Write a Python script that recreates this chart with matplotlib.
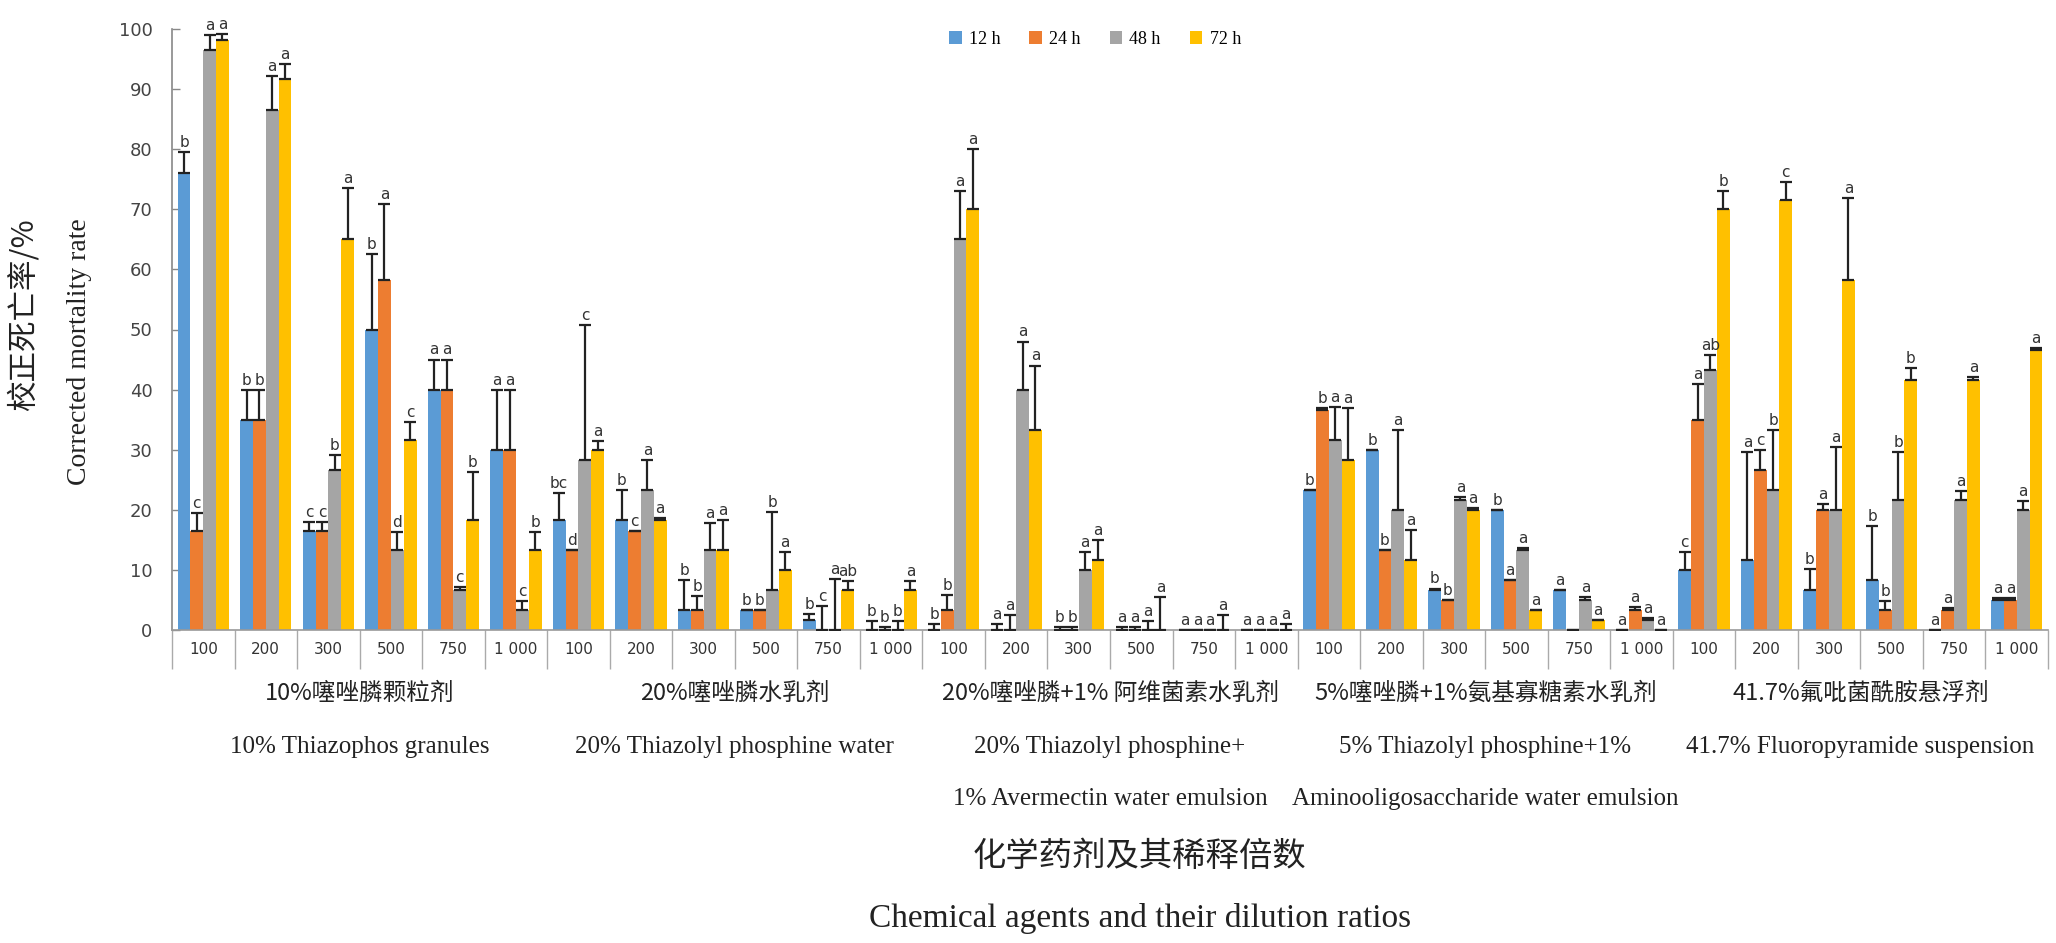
import matplotlib
matplotlib.use("Agg")
import matplotlib.pyplot as plt
import matplotlib.transforms as mtransforms
import numpy as np

# ---------------- data ----------------
dilutions = ["100", "200", "300", "500", "750", "1 000"]
groups_cn = ["10%噻唑膦颗粒剂", "20%噻唑膦水乳剂", "20%噻唑膦+1% 阿维菌素水乳剂",
             "5%噻唑膦+1%氨基寡糖素水乳剂", "41.7%氟吡菌酰胺悬浮剂"]
groups_en1 = ["10% Thiazophos granules", "20% Thiazolyl phosphine water",
              "20% Thiazolyl phosphine+", "5% Thiazolyl phosphine+1%",
              "41.7% Fluoropyramide suspension"]
groups_en2 = ["", "", "1% Avermectin water emulsion",
              "Aminooligosaccharide water emulsion", ""]
series_names = ["12 h", "24 h", "48 h", "72 h"]

v12 = [76, 35, 16.5, 50, 40, 30,
       18.3, 18.3, 3.3, 3.3, 1.7, 0,
       0, 0, 0, 0, 0, 0,
       23.3, 30, 6.6, 20, 6.6, 0,
       10, 11.6, 6.6, 8.3, 0, 5]
v24 = [16.5, 35, 16.5, 58.3, 40, 30,
       13.3, 16.5, 3.3, 3.3, 0, 0,
       3.3, 0, 0, 0, 0, 0,
       36.6, 13.3, 5, 8.3, 0, 3.3,
       35, 26.6, 20, 3.3, 3.3, 5]
v48 = [96.5, 86.6, 26.6, 13.3, 6.6, 3.3,
       28.3, 23.3, 13.3, 6.6, 0, 0,
       65, 40, 10, 0, 0, 0,
       31.6, 20, 21.6, 13.3, 5, 1.7,
       43.3, 23.3, 20, 21.6, 21.6, 20]
v72 = [98.2, 91.6, 65, 31.6, 18.3, 13.3,
       30, 18.3, 13.3, 10, 6.6, 6.6,
       70, 33.3, 11.6, 0, 0, 0,
       28.3, 11.6, 20, 3.3, 1.7, 0,
       70, 71.6, 58.3, 41.6, 41.6, 46.6]

e12 = [3.5, 5, 1.5, 12.5, 5, 10,
       4.5, 5, 5, 0, 1, 1.5,
       1, 1, 0.5, 0.5, 0, 0,
       0, 0, 0.3, 0, 0, 0,
       3, 18, 3.5, 9, 0, 0.3]
e24 = [3, 5, 1.5, 12.5, 5, 10,
       0, 0, 2.3, 0, 4, 0.5,
       2.5, 2.5, 0.5, 0.5, 0, 0,
       0.3, 0, 0, 0, 0, 0.5,
       6, 3.4, 1, 1.5, 0.3, 0.3]
e48 = [2.5, 5.5, 2.5, 3, 0.5, 1.5,
       22.5, 5, 4.5, 13, 8.5, 1.5,
       8, 8, 3, 1.5, 0, 0,
       5.5, 13.3, 0.5, 0.3, 0.5, 0.3,
       2.5, 10, 10.5, 8, 1.5, 1.5]
e72 = [1, 2.6, 8.5, 3, 8, 3,
       1.5, 0.3, 5, 3, 1.5, 1.5,
       10, 10.7, 3.4, 5.5, 2.5, 1,
       8.7, 5, 0.3, 0, 0, 0,
       3, 3, 13.5, 2, 0.5, 0.3]

l12 = ["b", "b", "c", "b", "a", "a",
       "bc", "b", "b", "b", "b", "b",
       "b", "a", "b", "a", "a", "a",
       "b", "b", "b", "b", "a", "a",
       "c", "a", "b", "b", "a", "a"]
l24 = ["c", "b", "c", "a", "a", "a",
       "d", "c", "b", "b", "c", "b",
       "b", "a", "b", "a", "a", "a",
       "b", "b", "b", "a", "", "a",
       "a", "c", "a", "b", "a", "a"]
l48 = ["a", "a", "b", "d", "c", "c",
       "c", "a", "a", "b", "a", "b",
       "a", "a", "a", "a", "a", "a",
       "a", "a", "a", "a", "a", "a",
       "ab", "b", "a", "b", "a", "a"]
l72 = ["a", "a", "a", "c", "b", "b",
       "a", "a", "a", "a", "ab", "a",
       "a", "a", "a", "a", "a", "a",
       "a", "a", "a", "a", "a", "a",
       "b", "c", "a", "b", "a", "a"]

colors = ["#5B9BD5", "#ED7D31", "#A5A5A5", "#FFC000"]

# ---------------- figure ----------------
W, H = 2056, 943
fig = plt.figure(figsize=(W / 100, H / 100), dpi=100)
ax = fig.add_axes([172 / W, (H - 630) / H, (2048 - 172) / W, (630 - 29) / H])

n = len(v12)
x = np.arange(n)
bw = 0.205
offs = [-1.5 * bw, -0.5 * bw, 0.5 * bw, 1.5 * bw]
vals = [v12, v24, v48, v72]
errs = [e12, e24, e48, e72]
labs = [l12, l24, l48, l72]

for k in range(4):
    xs = x + offs[k]
    ax.bar(xs, vals[k], width=bw, color=colors[k], label=series_names[k], zorder=2)
    ax.errorbar(xs, vals[k], yerr=[np.zeros(n), errs[k]], fmt="none",
                ecolor="#222222", elinewidth=1.6, capsize=4, capthick=1.6, zorder=3)
    for i in range(n):
        top = vals[k][i] + errs[k][i]
        ax.annotate(labs[k][i], (xs[i], top), xytext=(0, 1.5), textcoords="offset points",
                    ha="center", va="bottom", fontsize=11, color="#333333",
                    family="DejaVu Sans", zorder=4)

ax.set_xlim(-0.5, n - 0.5)
ax.set_ylim(0, 100)
ax.set_yticks(np.arange(0, 101, 10))
ax.tick_params(axis="y", direction="in", length=6, width=1, color="#888888",
               labelsize=13, labelcolor="#444444", pad=14)
for s in ["top", "right"]:
    ax.spines[s].set_visible(False)
ax.spines["left"].set_color("#888888")
ax.spines["bottom"].set_color("#999999")
ax.spines["left"].set_linewidth(1.2)
ax.spines["bottom"].set_linewidth(1.2)

ax.set_xticks(x)
ax.set_xticklabels(dilutions * 5)
ax.set_xticks(np.arange(-0.5, n, 1.0), minor=True)
ax.tick_params(axis="x", which="major", length=0, labelsize=11,
               labelcolor="#333333", pad=9)
ax.tick_params(axis="x", which="minor", length=28, width=1, color="#aaaaaa",
               direction="out")

# group labels
trans = mtransforms.blended_transform_factory(ax.transData, fig.transFigure)
cn = ["Noto Sans CJK SC", "DejaVu Sans"]
for g in range(5):
    cx = g * 6 + 2.5
    fig.text(cx, 1 - 693 / H, groups_cn[g], transform=trans, ha="center", va="center",
             fontsize=17, family=cn, color="#222222")
    fig.text(cx, 1 - 747 / H, groups_en1[g], transform=trans, ha="center", va="center",
             fontsize=18, family="Liberation Serif", color="#222222")
    if groups_en2[g]:
        fig.text(cx, 1 - 799 / H, groups_en2[g], transform=trans, ha="center",
                 va="center", fontsize=18, family="Liberation Serif", color="#222222")

fig.text(1140 / W, 1 - 856 / H, "化学药剂及其稀释倍数", ha="center", va="center",
         fontsize=24, family=cn, color="#222222")
fig.text(1140 / W, 1 - 919 / H, "Chemical agents and their dilution ratios",
         ha="center", va="center", fontsize=24, family="Liberation Serif", color="#222222")

fig.text(24 / W, 1 - 315 / H, "校正死亡率/%", rotation=90, ha="center", va="center",
         fontsize=22, family=cn, color="#222222")
fig.text(80 / W, 1 - 352 / H, "Corrected mortality rate", rotation=90, ha="center",
         va="center", fontsize=20, family="Liberation Serif", color="#222222")

leg = fig.legend(loc="center", bbox_to_anchor=(1095 / W, 1 - 39 / H), ncol=4,
                 frameon=False, prop={"family": "Liberation Serif", "size": 13},
                 handlelength=0.7, handleheight=0.7, handletextpad=0.4, columnspacing=1.6)

fig.savefig("out.png", dpi=100, facecolor="white")
